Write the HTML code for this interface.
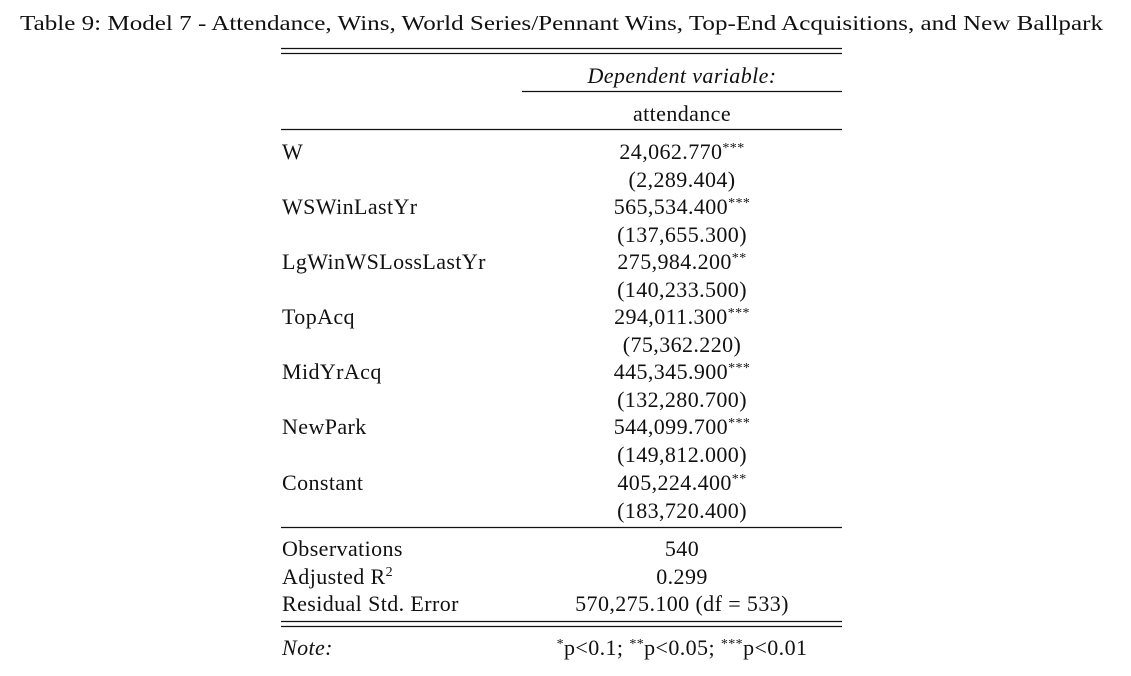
<!DOCTYPE html>
<html><head><meta charset="utf-8"><style>
html,body{margin:0;padding:0;background:#fff;}
svg{display:block;font-family:"Liberation Serif",serif;fill:#111;}
.s{font-size:14px;}
</style></head><body>
<svg width="1131" height="676" viewBox="0 0 1131 676">
<text x="20" y="30" font-size="21" textLength="1083" lengthAdjust="spacingAndGlyphs">Table 9: Model 7 - Attendance, Wins, World Series/Pennant Wins, Top-End Acquisitions, and New Ballpark</text>
<g stroke="#111" stroke-width="1.3">
<line x1="281" y1="48.5" x2="842" y2="48.5"/><line x1="281" y1="53.5" x2="842" y2="53.5"/>
<line x1="522" y1="91.5" x2="842" y2="91.5"/>
<line x1="281" y1="129.5" x2="842" y2="129.5"/>
<line x1="281" y1="527.5" x2="842" y2="527.5"/>
<line x1="281" y1="621.5" x2="842" y2="621.5"/><line x1="281" y1="626.5" x2="842" y2="626.5"/>
</g>
<g font-size="22" letter-spacing="0.4">
<text x="682" y="83" text-anchor="middle" font-style="italic">Dependent variable:</text>
<text x="682" y="121" text-anchor="middle">attendance</text>
<g>
<text x="282" y="159">W</text><text x="682" y="159" text-anchor="middle">24,062.770<tspan class="s" dy="-7">***</tspan></text><text x="682" y="187" text-anchor="middle">(2,289.404)</text>
<text x="282" y="214">WSWinLastYr</text><text x="682" y="214" text-anchor="middle">565,534.400<tspan class="s" dy="-7">***</tspan></text><text x="682" y="242" text-anchor="middle">(137,655.300)</text>
<text x="282" y="269">LgWinWSLossLastYr</text><text x="682" y="269" text-anchor="middle">275,984.200<tspan class="s" dy="-7">**</tspan></text><text x="682" y="297" text-anchor="middle">(140,233.500)</text>
<text x="282" y="324">TopAcq</text><text x="682" y="324" text-anchor="middle">294,011.300<tspan class="s" dy="-7">***</tspan></text><text x="682" y="352" text-anchor="middle">(75,362.220)</text>
<text x="282" y="379">MidYrAcq</text><text x="682" y="379" text-anchor="middle">445,345.900<tspan class="s" dy="-7">***</tspan></text><text x="682" y="407" text-anchor="middle">(132,280.700)</text>
<text x="282" y="434">NewPark</text><text x="682" y="434" text-anchor="middle">544,099.700<tspan class="s" dy="-7">***</tspan></text><text x="682" y="462" text-anchor="middle">(149,812.000)</text>
<text x="282" y="490">Constant</text><text x="682" y="490" text-anchor="middle">405,224.400<tspan class="s" dy="-7">**</tspan></text><text x="682" y="518" text-anchor="middle">(183,720.400)</text>
</g>
<g>
<text x="282" y="556">Observations</text><text x="682" y="556" text-anchor="middle">540</text>
<text x="282" y="584">Adjusted R<tspan dy="-8" font-size="14">2</tspan></text><text x="682" y="584" text-anchor="middle">0.299</text>
<text x="282" y="611">Residual Std. Error</text><text x="682" y="611" text-anchor="middle">570,275.100 (df = 533)</text>
</g>
<text x="282" y="655" font-style="italic">Note:</text>
<text x="682" y="655" text-anchor="middle"><tspan class="s" dy="-7">*</tspan><tspan dy="7">p&lt;0.1; </tspan><tspan class="s" dy="-7">**</tspan><tspan dy="7">p&lt;0.05; </tspan><tspan class="s" dy="-7">***</tspan><tspan dy="7">p&lt;0.01</tspan></text>
</g>
</svg>
</body></html>
